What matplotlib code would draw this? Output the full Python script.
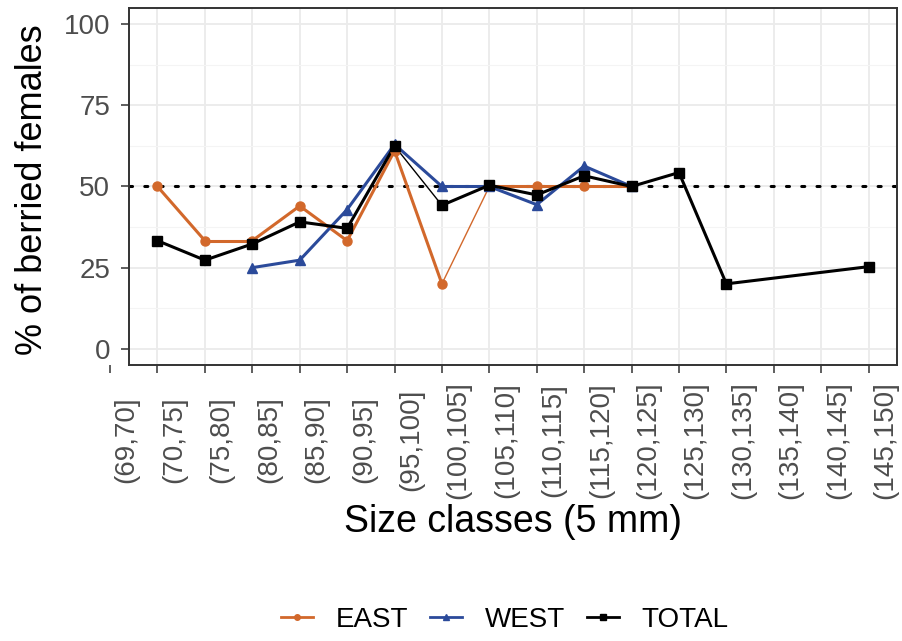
import numpy as np
import matplotlib
matplotlib.use("Agg")
import matplotlib.pyplot as plt
import matplotlib.transforms as mtransforms
from matplotlib.lines import Line2D

plt.rcParams['font.family'] = ['Liberation Sans', 'DejaVu Sans']

# size classes (5 mm) and % of berried females per area
size_classes = ["(69,70]", "(70,75]", "(75,80]", "(80,85]", "(85,90]", "(90,95]",
                "(95,100]", "(100,105]", "(105,110]", "(110,115]", "(115,120]",
                "(120,125]", "(125,130]", "(130,135]", "(135,140]", "(140,145]",
                "(145,150]"]
nan = np.nan
east = [nan, 50, 33.3, 33.3, 44.0, 33.3, 61.0, 20.0, 50, 50, 50, 50,
        nan, nan, nan, nan, nan]
west = [nan, nan, nan, 25.0, 27.3, 42.9, 63.0, 50, 50, 44.4, 56.3, 50,
        nan, nan, nan, nan, nan]
total = [nan, 33.3, 27.3, 32.3, 39.1, 37.1, 62.5, 44.2, 50.4, 47.4, 53.3, 50,
         54.3, 20.0, nan, nan, 25.3]

# segments (starting class index) drawn with a thinner line
east_thin = [7]
total_thin = [6]

col_east = '#D2682B'
col_west = '#2B4A9A'
col_total = '#000000'

fig = plt.figure(figsize=(9.03, 6.41), dpi=100)
ax = fig.add_axes([0.1429, 0.4306, 0.8505, 0.5569])

x = np.arange(len(size_classes))


def draw_series(vals, color, marker, thin, ms):
    y = np.asarray(vals, dtype=float)
    ok = np.flatnonzero(np.isfinite(y))
    # missing classes are skipped, neighbours joined directly
    for a, b in zip(ok[:-1], ok[1:]):
        lw = 1.0 if a in thin else 2.2
        ax.plot([x[a], x[b]], [y[a], y[b]], color=color, lw=lw,
                solid_capstyle='round', zorder=3)
    ax.plot(x[ok], y[ok], ls='none', marker=marker, color=color, ms=ms, zorder=4)


ax.axhline(50, color='black', lw=2.2, ls=(0, (1, 4)), dash_capstyle='round', zorder=2)
draw_series(east, col_east, 'o', east_thin, 6.5)
draw_series(west, col_west, '^', [], 6.5)
draw_series(total, col_total, 's', total_thin, 6.8)

ax.set_xlim(0.4, 16.6)
ax.set_ylim(-5, 105)
ax.set_yticks([0, 25, 50, 75, 100])
ax.set_yticks([12.5, 37.5, 62.5, 87.5], minor=True)
ax.set_xticks(x[1:])
ax.set_xticklabels([])
ax.grid(True, which='major', color='#EBEBEB', lw=1.3, zorder=0)
ax.grid(True, which='minor', axis='y', color='#F4F4F4', lw=0.8, zorder=0)
ax.set_axisbelow(True)
for s in ax.spines.values():
    s.set_color('#333333')
    s.set_linewidth(1.4)
ax.tick_params(axis='both', which='major', length=5.5, width=1.1, color='#333333',
               labelsize=20, labelcolor='#4D4D4D', pad=8)
ax.tick_params(axis='y', which='minor', length=0)

# category labels sit to the right of their ticks, centred vertically
blend = mtransforms.blended_transform_factory(ax.transData, ax.transAxes)
lab_tr = blend + mtransforms.ScaledTranslation(12 / 72, -54 / 72, fig.dpi_scale_trans)
for i, lab in enumerate(size_classes):
    ax.text(x[i], 0, lab, transform=lab_tr, rotation=90, ha='center', va='center',
            fontsize=20, color='#4D4D4D', clip_on=False)
# tick for the first class, left of the panel
ax.plot([x[0]], [0], marker=3, ms=5.5, mew=1.1, color='#333333',
        transform=blend, clip_on=False)

ax.set_xlabel('Size classes (5 mm)', fontsize=27)
ax.xaxis.set_label_coords(0.5, -0.39)
ax.set_ylabel('% of berried females', fontsize=26)
ax.yaxis.set_label_coords(-0.103, 0.49)

handles = [
    Line2D([], [], color=col_east, marker='o', lw=2, ms=4),
    Line2D([], [], color=col_west, marker='^', lw=2, ms=4),
    Line2D([], [], color=col_total, marker='s', lw=2, ms=4),
]
fig.legend(handles, ['EAST', 'WEST', 'TOTAL'], loc='center', ncol=3,
           bbox_to_anchor=(0.559, 0.033), frameon=False, fontsize=20,
           handlelength=1.15, handletextpad=0.8, columnspacing=0.8)

fig.savefig('out.png', dpi=100)
